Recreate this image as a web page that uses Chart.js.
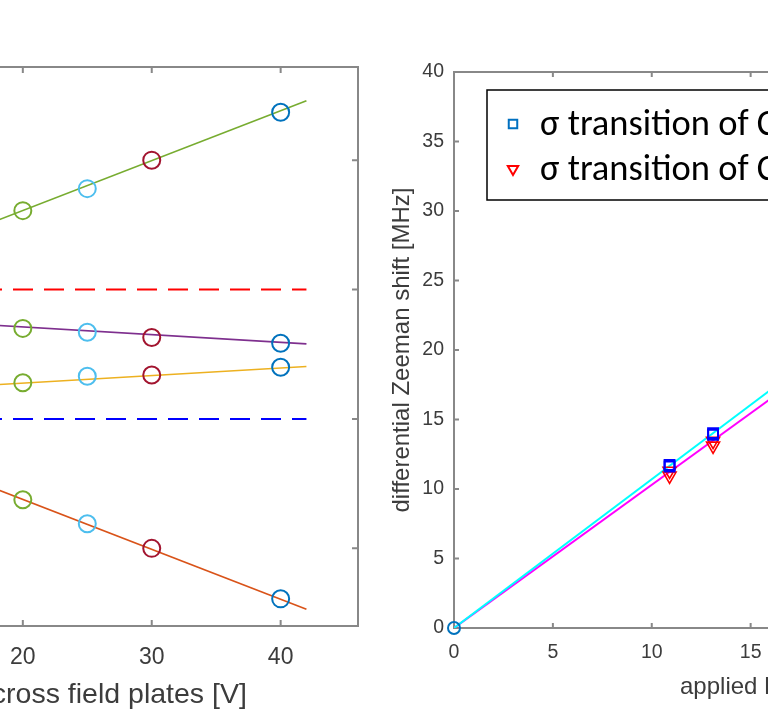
<!DOCTYPE html>
<html>
<head>
<meta charset="utf-8">
<script src="https://cdn.jsdelivr.net/npm/chart.js@4.4.0/dist/chart.umd.min.js"></script>
<style>
  html, body { margin: 0; padding: 0; background: #fff; }
  body { position: relative; width: 768px; height: 712px; overflow: hidden; }
  canvas { position: absolute; top: 0; }
  #stark { left: -300px; }
  #zeeman { left: 380px; }
</style>
</head>
<body>
<canvas id="stark" width="680" height="712"></canvas>
<canvas id="zeeman" width="790" height="712"></canvas>
<script>
// ---- Stark panel: level positions vs. plate voltage ----
const plateVoltages = [20, 25, 30, 40];
const levelUpper  = [2.61, 2.78, 3.00, 3.37];   // green fit
const levelMidHi  = [1.70, 1.67, 1.63, 1.585];  // purple fit
const levelMidLo  = [1.28, 1.33, 1.34, 1.40];   // yellow fit
const levelLower  = [0.376, 0.19, 0.0, -0.39];  // orange fit
const voltageColors = ['#77AC30', '#4DBEEE', '#A2142F', '#0072BD'];

const fitVoltage = [0, 42];
const fitUpper = [1.84, 3.46];
const fitMidHi = [1.83, 1.58];
const fitMidLo = [1.16, 1.405];
const fitLower = [1.15, -0.47];
const refLevels = [2, 1];
const refColors = ['#FF0000', '#0000FF'];

const starkTicksX = [0, 10, 20, 30, 40];
const starkTicksY = [0, 1, 2, 3];

// ---- Zeeman panel: differential shift vs. applied field ----
const squareField = [10.9, 10.9, 13.1, 13.1];
const squareShift = [11.73, 11.62, 14.02, 13.90];
const triField    = [10.9, 10.9, 13.1, 13.1];
const triShift    = [11.30, 10.95, 13.45, 13.10];
const originField = [0];
const originShift = [0];
const fitField   = [0, 30];
const fitCyan    = [0, 32.1];
const fitMagenta = [0, 30.9];

const zeemanTicksX = [0, 5, 10, 15, 20, 25, 30, 35];
const zeemanTicksY = [0, 5, 10, 15, 20, 25, 30, 35, 40];

const legendLabels = ['σ transition of Cs, F=3', 'σ transition of Cs, F=4'];
const legendColors = ['#0070C0', '#FF0000'];

const AXIS_GREY = '#888888';
const LABEL_GREY = '#3c3c3c';
const SANS = "'Liberation Sans', Arial, Helvetica, sans-serif";

const pts = (xs, ys) => xs.map((x, i) => ({ x: x, y: ys[i] }));

// box around the plot area with inward ticks on every side
const matlabAxes = {
  id: 'matlabAxes',
  beforeDatasetsDraw(chart, args, opts) {
    const { ctx, chartArea: a, scales } = chart;
    const len = opts.tickLength;
    ctx.save();
    ctx.strokeStyle = opts.color;
    ctx.lineWidth = opts.lineWidth;
    ctx.strokeRect(a.left, a.top, a.right - a.left, a.bottom - a.top);
    ctx.beginPath();
    opts.xTicks.forEach(v => {
      const px = scales.x.getPixelForValue(v);
      ctx.moveTo(px, a.bottom); ctx.lineTo(px, a.bottom - len);
      ctx.moveTo(px, a.top); ctx.lineTo(px, a.top + len);
    });
    opts.yTicks.forEach(v => {
      const py = scales.y.getPixelForValue(v);
      ctx.moveTo(a.left, py); ctx.lineTo(a.left + len, py);
      ctx.moveTo(a.right, py); ctx.lineTo(a.right - len, py);
    });
    ctx.stroke();
    ctx.restore();
  }
};

// framed legend sitting inside the plot area
const boxedLegend = {
  id: 'boxedLegend',
  afterDraw(chart, args, opts) {
    if (!opts.items) return;
    const { ctx, chartArea: a } = chart;
    const x0 = a.left + opts.left, y0 = a.top + opts.top;
    ctx.save();
    ctx.fillStyle = '#fff';
    ctx.fillRect(x0, y0, opts.width, opts.height);
    ctx.strokeStyle = '#000';
    ctx.lineWidth = 1.5;
    ctx.strokeRect(x0, y0, opts.width, opts.height);
    opts.items.forEach((item, i) => {
      const cy = y0 + opts.rows[i];
      ctx.fillStyle = 'rgba(0,0,0,0)';
      ctx.strokeStyle = item.color;
      ctx.lineWidth = 2;
      Chart.helpers.drawPoint(ctx, {
        pointStyle: item.style, radius: 6, rotation: item.rotation, borderWidth: 2
      }, x0 + opts.markerX, cy);
      ctx.fillStyle = '#000';
      ctx.font = opts.font;
      ctx.textBaseline = 'middle';
      ctx.fillText(item.text, x0 + opts.textX, cy + opts.textShift);
    });
    ctx.restore();
  }
};

Chart.register(matlabAxes, boxedLegend);

function tickSetter(values) {
  return scale => { scale.ticks = values.map(v => ({ value: v })); };
}

// ---------- left panel ----------
const starkSets = [];
plateVoltages.forEach((v, i) => {
  starkSets.push({
    label: v + ' V',
    data: [levelUpper[i], levelMidHi[i], levelMidLo[i], levelLower[i]].map(y => ({ x: v, y: y })),
    borderColor: voltageColors[i],
    backgroundColor: 'rgba(0,0,0,0)',
    pointRadius: 8.5,
    pointBorderWidth: 2,
    showLine: false
  });
});
[[fitUpper, '#77AC30'], [fitMidHi, '#7E2F8E'], [fitMidLo, '#EDB120'], [fitLower, '#D95319']].forEach(([ys, c]) => {
  starkSets.push({
    label: 'fit',
    data: pts(fitVoltage, ys),
    borderColor: c,
    borderWidth: 1.6,
    pointRadius: 0,
    showLine: true
  });
});
refLevels.forEach((lvl, i) => {
  starkSets.push({
    label: 'reference',
    data: fitVoltage.map(x => ({ x: x, y: lvl })),
    borderColor: refColors[i],
    borderWidth: 2,
    borderDash: [20, 11],
    pointRadius: 0,
    showLine: true
  });
});

new Chart(document.getElementById('stark'), {
  type: 'scatter',
  data: { datasets: starkSets },
  options: {
    responsive: false,
    animation: false,
    layout: { padding: { left: 65, right: 22, top: 67, bottom: 0 } },
    plugins: {
      legend: { display: false },
      tooltip: { enabled: false },
      matlabAxes: { color: AXIS_GREY, lineWidth: 2, tickLength: 6, xTicks: starkTicksX, yTicks: starkTicksY }
    },
    scales: {
      x: {
        type: 'linear', min: 0, max: 46,
        afterBuildTicks: tickSetter(starkTicksX),
        afterFit: s => { s.height = 86; },
        grid: { display: false, drawTicks: false },
        border: { display: false },
        ticks: { color: LABEL_GREY, font: { family: SANS, size: 23 }, padding: 18, maxRotation: 0 },
        title: {
          display: true, text: 'voltage across field plates [V]',
          color: LABEL_GREY, font: { family: SANS, size: 28.5 }, padding: { top: 0, bottom: 0 }
        }
      },
      y: {
        type: 'linear', min: -0.6, max: 3.72, display: false
      }
    }
  }
});

// ---------- right panel ----------
new Chart(document.getElementById('zeeman'), {
  type: 'scatter',
  data: {
    datasets: [
      {
        label: legendLabels[0],
        data: pts(squareField, squareShift),
        borderColor: '#0000FF', backgroundColor: 'rgba(0,0,0,0)',
        pointStyle: 'rect', pointRadius: 7, pointBorderWidth: 2
      },
      {
        label: legendLabels[1],
        data: pts(triField, triShift),
        borderColor: '#FF0000', backgroundColor: 'rgba(0,0,0,0)',
        pointStyle: 'triangle', pointRotation: 180, pointRadius: 7.5, pointBorderWidth: 1.6
      },
      {
        label: 'zero field',
        data: pts(originField, originShift),
        borderColor: '#0072BD', backgroundColor: 'rgba(0,0,0,0)',
        pointRadius: 6, pointBorderWidth: 2,
        clip: false
      },
      {
        label: 'fit 1',
        data: pts(fitField, fitCyan),
        borderColor: '#00FFFF', borderWidth: 2, pointRadius: 0, showLine: true
      },
      {
        label: 'fit 2',
        data: pts(fitField, fitMagenta),
        borderColor: '#FF00FF', borderWidth: 2, pointRadius: 0, showLine: true
      }
    ]
  },
  options: {
    responsive: false,
    animation: false,
    layout: { padding: { left: 0, right: 23, top: 72, bottom: 0 } },
    plugins: {
      legend: { display: false },
      tooltip: { enabled: false },
      matlabAxes: { color: AXIS_GREY, lineWidth: 2, tickLength: 5, xTicks: zeemanTicksX, yTicks: zeemanTicksY },
      boxedLegend: {
        left: 33, top: 18, width: 420, height: 110,
        rows: [34, 79], markerX: 26, textX: 53, textShift: 2,
        font: "36.5px Carlito, Lato, 'Open Sans', sans-serif",
        items: legendLabels.map((t, i) => ({
          text: t, color: legendColors[i],
          style: i === 0 ? 'rect' : 'triangle', rotation: i === 0 ? 0 : 180
        }))
      }
    },
    scales: {
      x: {
        type: 'linear', min: 0, max: 35,
        afterBuildTicks: tickSetter(zeemanTicksX),
        afterFit: s => { s.height = 84; },
        grid: { display: false, drawTicks: false },
        border: { display: false },
        ticks: { color: LABEL_GREY, font: { family: SANS, size: 19.5 }, padding: 13, maxRotation: 0 },
        title: {
          display: true, text: 'applied B field [Gauss]',
          color: LABEL_GREY, font: { family: SANS, size: 24 }, padding: { top: 10, bottom: 10 }
        }
      },
      y: {
        type: 'linear', min: 0, max: 40,
        afterBuildTicks: tickSetter(zeemanTicksY),
        afterFit: s => { s.width = 74; },
        grid: { display: false, drawTicks: false },
        border: { display: false },
        ticks: { color: LABEL_GREY, font: { family: SANS, size: 19.5 }, padding: 10 },
        title: {
          display: true, text: 'differential Zeeman shift [MHz]',
          color: LABEL_GREY, font: { family: SANS, size: 24 }, padding: { top: 8, bottom: 8 }
        }
      }
    }
  }
});
</script>
</body>
</html>
